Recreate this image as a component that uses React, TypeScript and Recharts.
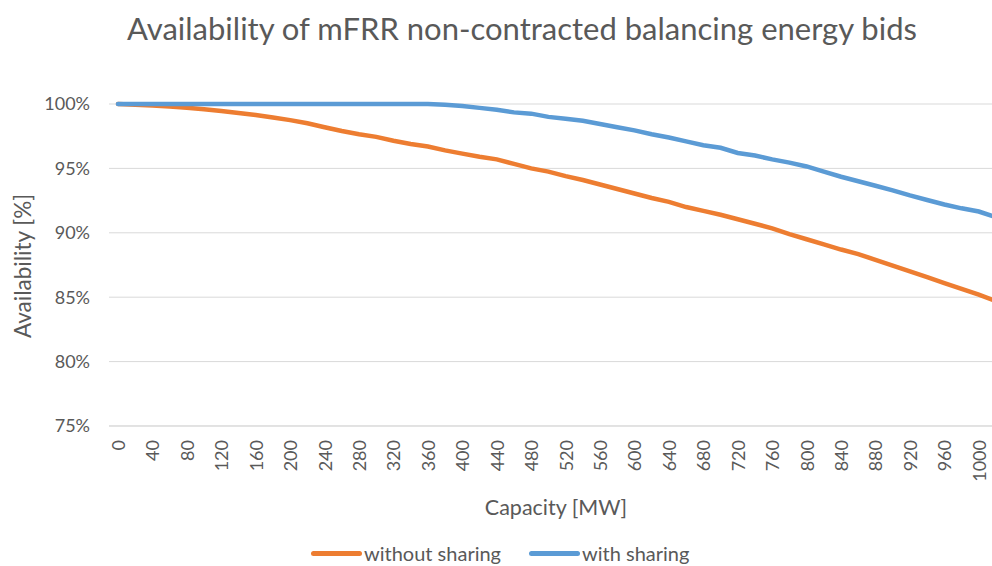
import { LineChart, Line, XAxis, YAxis, CartesianGrid } from 'recharts'

// capacity steps [MW]
const capacities = [
  0, 20, 40, 60, 80, 100, 120, 140, 160, 180, 200, 220, 240, 260, 280, 300, 320, 340, 360,
  380, 400, 420, 440, 460, 480, 500, 520, 540, 560, 580, 600, 620, 640, 660, 680, 700, 720,
  740, 760, 780, 800, 820, 840, 860, 880, 900, 920, 940, 960, 980, 1000, 1020
]

// availability [%]
const withoutSharing = [
  100, 99.95, 99.88, 99.8, 99.7, 99.6, 99.45, 99.3, 99.15, 98.95, 98.75, 98.5, 98.2, 97.9,
  97.65, 97.45, 97.15, 96.9, 96.7, 96.4, 96.15, 95.9, 95.7, 95.35, 95.0, 94.75, 94.4, 94.1,
  93.75, 93.4, 93.05, 92.7, 92.4, 92.0, 91.7, 91.4, 91.05, 90.7, 90.35, 89.9, 89.5, 89.1,
  88.7, 88.35, 87.9, 87.45, 87.0, 86.55, 86.1, 85.65, 85.2, 84.7
]

const withSharing = [
  100, 100, 100, 100, 100, 100, 100, 100, 100, 100, 100, 100, 100, 100, 100, 100, 100, 100, 100,
  99.95, 99.85, 99.7, 99.55, 99.35, 99.25, 99.0, 98.85, 98.7, 98.45, 98.2, 97.95, 97.65, 97.4,
  97.1, 96.8, 96.6, 96.2, 96.0, 95.7, 95.45, 95.15, 94.75, 94.35, 94.0, 93.65, 93.3, 92.9,
  92.55, 92.2, 91.9, 91.65, 91.2
]

const yTicks = [75, 80, 85, 90, 95, 100]

const ORANGE = '#ED7D31'
const BLUE = '#5B9BD5'
const TEXT = '#595959'
const FONT = 'Lato, "Open Sans", sans-serif'

const data = capacities.map((c, i) => ({
  capacity: c,
  without: withoutSharing[i],
  with: withSharing[i]
}))

function CapacityTick({ x, y, payload }: any) {
  return (
    <text
      x={0}
      y={0}
      transform={`translate(${x},${y}) rotate(-90)`}
      textAnchor="end"
      dominantBaseline="central"
      fill={TEXT}
      fontSize={18}
      fontFamily={FONT}
    >
      {payload.value}
    </text>
  )
}

export default function App() {
  return (
    <div
      style={{
        position: 'absolute',
        left: 0,
        top: 0,
        width: 992,
        height: 566,
        overflow: 'hidden',
        background: '#fff',
        fontFamily: FONT,
        color: TEXT
      }}
    >
      <div
        style={{
          position: 'absolute',
          left: 522,
          top: 28,
          transform: 'translate(-50%, -50%)',
          fontSize: 31,
          lineHeight: '40px',
          whiteSpace: 'nowrap'
        }}
      >
        Availability of mFRR non-contracted balancing energy bids
      </div>

      <LineChart
        width={1044}
        height={600}
        data={data}
        margin={{ top: 104, right: 39, left: 0, bottom: 114 }}
      >
        <CartesianGrid vertical={false} stroke="#D9D9D9" strokeWidth={1} />
        <XAxis
          dataKey="capacity"
          interval={1}
          tick={<CapacityTick />}
          tickLine={false}
          tickSize={0}
          tickMargin={14}
          axisLine={{ stroke: '#D9D9D9' }}
          height={60}
          padding={{ left: 9, right: 9 }}
        />
        <YAxis
          type="number"
          domain={[75, 100]}
          ticks={yTicks}
          interval={0}
          tickFormatter={(v: number) => `${v}%`}
          axisLine={false}
          tickLine={false}
          tickSize={0}
          tickMargin={19}
          width={109}
          tick={{ fill: TEXT, fontSize: 18, fontFamily: FONT }}
        />
        <Line
          type="linear"
          dataKey="without"
          name="without sharing"
          stroke={ORANGE}
          strokeWidth={4.5}
          strokeLinecap="round"
          dot={false}
          isAnimationActive={false}
        />
        <Line
          type="linear"
          dataKey="with"
          name="with sharing"
          stroke={BLUE}
          strokeWidth={4.5}
          strokeLinecap="round"
          dot={false}
          isAnimationActive={false}
        />
      </LineChart>

      <div
        style={{
          position: 'absolute',
          left: 22,
          top: 266,
          transform: 'translate(-50%, -50%) rotate(-90deg)',
          fontSize: 22.5,
          whiteSpace: 'nowrap'
        }}
      >
        Availability [%]
      </div>

      <div
        style={{
          position: 'absolute',
          left: 556,
          top: 507,
          transform: 'translate(-50%, -50%)',
          fontSize: 21.5,
          whiteSpace: 'nowrap'
        }}
      >
        Capacity [MW]
      </div>

      <div
        style={{
          position: 'absolute',
          left: 311,
          top: 541,
          display: 'flex',
          alignItems: 'center',
          fontSize: 20,
          lineHeight: '24px',
          whiteSpace: 'nowrap'
        }}
      >
        {[
          { name: 'without sharing', color: ORANGE },
          { name: 'with sharing', color: BLUE }
        ].map((s) => (
          <div key={s.name} style={{ display: 'flex', alignItems: 'center', marginRight: 28 }}>
            <span
              style={{
                display: 'inline-block',
                width: 51,
                height: 5,
                borderRadius: 3,
                background: s.color,
                marginRight: 2
              }}
            />
            <span>{s.name}</span>
          </div>
        ))}
      </div>
    </div>
  )
}
